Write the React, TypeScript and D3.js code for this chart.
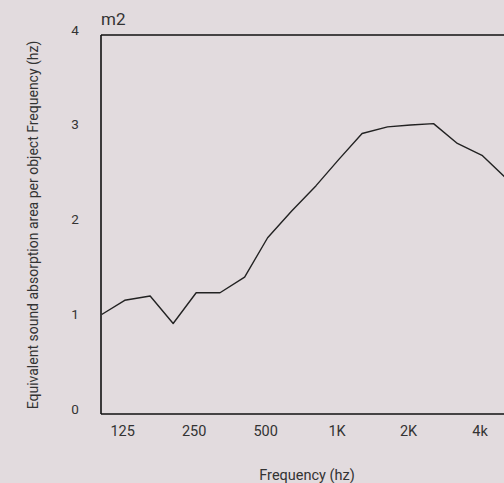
import React from "react";
import * as d3 from "d3";

const frequencies = [100, 125, 160, 200, 250, 315, 400, 500, 630, 800, 1000, 1250, 1600, 2000, 2500, 3150, 4000, 5000];
const absorption = [1.05, 1.2, 1.245, 0.955, 1.28, 1.28, 1.445, 1.86, 2.14, 2.41, 2.69, 2.96, 3.03, 3.05, 3.065, 2.855, 2.73, 2.5];
const xTickValues = [125, 250, 500, 1000, 2000, 4000];
const xTickLabels = ["125", "250", "500", "1K", "2K", "4k"];
const yTickValues = [0, 1, 2, 3, 4];

const W = 504;
const H = 483;
const FONT = "Roboto, 'Noto Sans', sans-serif";
const TEXT = "#333";

export default function App() {
  const left = 101;
  const top = 35;
  const bottom = 414;
  const x = d3
    .scaleLog()
    .domain([100, 5000])
    .range([101.7, 505]);
  const y = d3.scaleLinear().domain([0, 4]).range([bottom, top]);
  const line = d3
    .line<number>()
    .x((_, i) => x(frequencies[i]))
    .y((d) => y(d));

  return (
    <svg
      width={W}
      height={H}
      style={{ position: "absolute", left: 0, top: 0, background: "#e2dbde" }}
    >
      <rect x={0} y={0} width={W} height={H} fill="#e2dbde" />
      <line x1={left} x2={W + 10} y1={top} y2={top} stroke="#111" strokeWidth={1.6} />
      <line x1={left} x2={W + 10} y1={bottom} y2={bottom} stroke="#111" strokeWidth={1.6} />
      <line x1={left} x2={left} y1={top} y2={bottom} stroke="#111" strokeWidth={1.6} />
      <path d={line(absorption) || ""} fill="none" stroke="#222" strokeWidth={1.4} strokeLinejoin="round" />
      {yTickValues.map((v) => (
        <text
          key={v}
          x={75}
          y={y(v) - 4}
          textAnchor="middle"
          dominantBaseline="middle"
          fontFamily={FONT}
          fontSize={13.5}
          fill={TEXT}
        >
          {v}
        </text>
      ))}
      {xTickValues.map((v, i) => (
        <text
          key={v}
          x={x(v) - 2}
          y={432}
          textAnchor="middle"
          dominantBaseline="middle"
          fontFamily={FONT}
          fontSize={14.5}
          fill={TEXT}
        >
          {xTickLabels[i]}
        </text>
      ))}
      <text x={101} y={25} fontFamily={FONT} fontSize={17} fill={TEXT}>
        m2
      </text>
      <text
        x={307}
        y={476}
        textAnchor="middle"
        dominantBaseline="middle"
        fontFamily={FONT}
        fontSize={14.5}
        fill={TEXT}
      >
        Frequency (hz)
      </text>
      <text
        transform={`translate(34,225) rotate(-90)`}
        textAnchor="middle"
        dominantBaseline="middle"
        fontFamily={FONT}
        fontSize={14}
        fill={TEXT}
      >
        Equivalent sound absorption area per object Frequency (hz)
      </text>
    </svg>
  );
}
